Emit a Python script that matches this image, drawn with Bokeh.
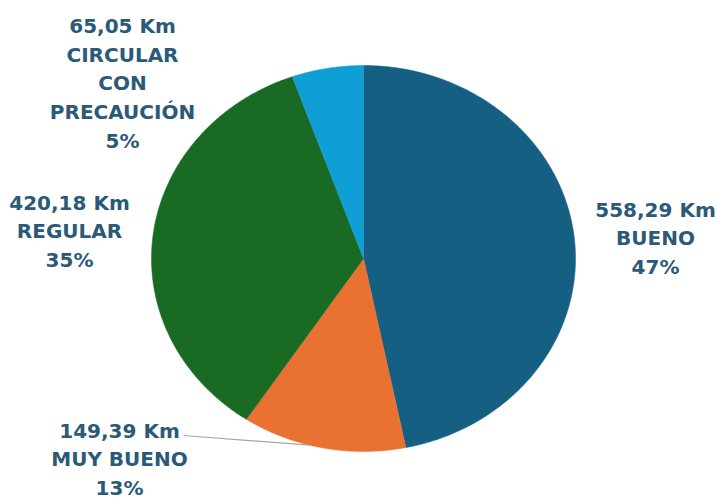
import numpy as np
from bokeh.plotting import figure
from bokeh.models import ColumnDataSource
from bokeh.core.properties import value
from bokeh.embed import file_html
from bokeh.resources import INLINE

# ---- data ----
categories = ["BUENO", "MUY BUENO", "REGULAR", "CIRCULAR\nCON\nPRECAUCIÓN"]
km_values = [558.29, 149.39, 420.18, 65.05]
colors = ["#156082", "#E97132", "#196B24", "#0F9ED5"]

# ---- layout (pixels in page) ----
W, H = 716, 503
OFF = 0                # page offset of the canvas
CX, CY = 363, 258      # pie centre (page px)
RX, RY = 212, 193      # pie radii (page px)
label_px = [(655, 238), (119, 459), (69, 231), (122, 83)]
TEXT_COLOR = "#2A5A78"

def to_data(px, py):
    return (px - CX) / RX, (CY - py) / RY

total = sum(km_values)
fracs = [v / total for v in km_values]
cum = np.concatenate([[0], np.cumsum(fracs)])

xs, ys = [], []
for i in range(len(km_values)):
    a0 = np.pi / 2 - 2 * np.pi * cum[i]
    a1 = np.pi / 2 - 2 * np.pi * cum[i + 1]
    t = np.linspace(a0, a1, 200)
    xs.append([0.0] + list(np.cos(t)) + [0.0])
    ys.append([0.0] + list(np.sin(t)) + [0.0])

x0, _ = to_data(OFF, 0)
x1, _ = to_data(OFF + W, 0)
_, y1 = to_data(0, OFF)
_, y0 = to_data(0, OFF + H)

p = figure(width=W, height=H, x_range=(x0, x1), y_range=(y0, y1),
           output_backend="svg", toolbar_location=None, min_border=0)
p.axis.visible = False
p.grid.visible = False
p.outline_line_color = None
p.background_fill_color = "white"

src = ColumnDataSource(dict(xs=xs, ys=ys, color=colors))
p.patches("xs", "ys", source=src, fill_color="color", line_color="color", line_width=0.5)

# leader line for MUY BUENO
lx0, ly0 = to_data(183, 435)
ex = to_data(309, 0)[0]
ey = -np.sqrt(max(0.0, 1 - ex ** 2))
p.line([lx0, ex], [ly0, ey], line_color="#A6A6A6", line_width=1.2)

texts = []
for name, v, f in zip(categories, km_values, fracs):
    km = f"{v:.2f}".replace(".", ",") + " Km"
    texts.append(f"{km}\n{name}\n{round(f * 100)}%")
tx = [to_data(*lp)[0] for lp in label_px]
ty = [to_data(*lp)[1] for lp in label_px]
tsrc = ColumnDataSource(dict(x=tx, y=ty, text=texts))
p.text("x", "y", text="text", source=tsrc, text_align="center", text_baseline="middle",
       text_font=value("DejaVu Sans"), text_font_style="bold", text_font_size="20px",
       text_color=TEXT_COLOR, text_line_height=1.2)

open("out.html", "w").write(file_html(p, INLINE))
